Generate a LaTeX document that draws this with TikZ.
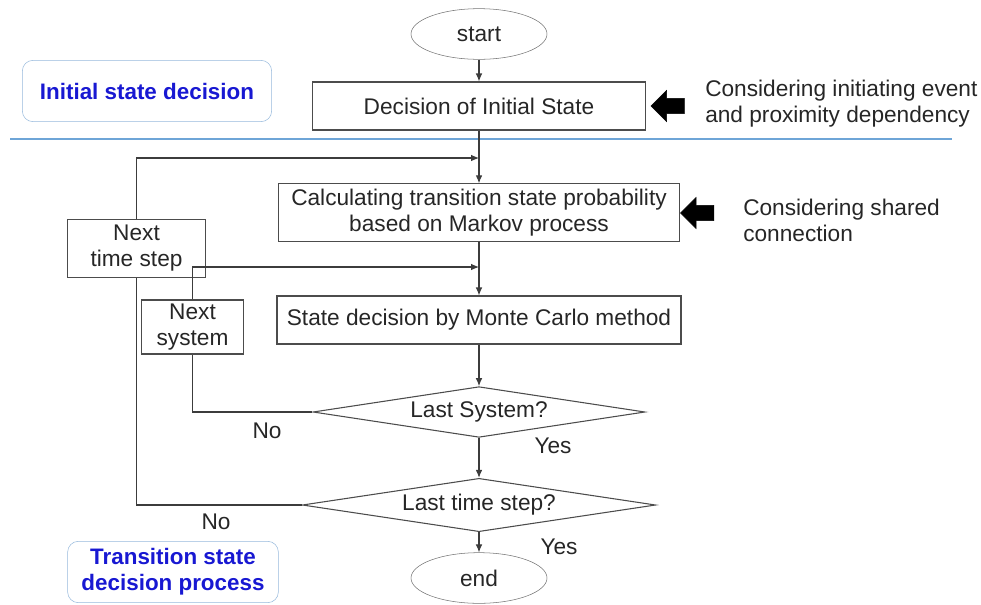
\documentclass[tikz,border=0pt]{standalone}
\usepackage{fontspec}
\setmainfont{Liberation Sans}
\usepackage{tikz}
\usetikzlibrary{arrows.meta, positioning, shapes.geometric, shapes.arrows}

\definecolor{labelblue}{RGB}{24,24,210}
\definecolor{frameblue}{RGB}{150,185,220}
\definecolor{sepblue}{RGB}{110,165,215}
\definecolor{linegray}{RGB}{60,60,60}

\begin{document}
\begin{tikzpicture}[
  x=0.75pt, y=-0.75pt,
  every node/.style = {font=\fontsize{17}{19.5}\selectfont, text=black!85},
  term/.style = {ellipse, draw=black!55, minimum width=102pt, minimum height=38pt, inner sep=0pt},
  box/.style = {rectangle, draw=black!70, thick, align=center, inner sep=0pt},
  choice/.style = {diamond, aspect=6.5, draw=black!70, thick, inner sep=0pt},
  stage/.style = {rectangle, rounded corners=8pt, draw=frameblue, align=center,
                  font=\fontsize{16.8}{19.5}\selectfont\bfseries, text=labelblue},
  bigarrow/.style = {single arrow, fill=black, draw=black, shape border rotate=180,
                     inner sep=5.5pt, single arrow head extend=6pt, minimum height=25pt},
  note/.style = {anchor=west, align=left, inner sep=0pt},
  arrow/.style = {draw=linegray, thick, -{Latex[length=6pt, width=5pt]}},
  link/.style = {draw=linegray, thick}
]
\useasboundingbox (0,0) rectangle (981,604);

% main flow
\node[term] (start) at (479, 34) {start};
\node[box, minimum width=250pt, minimum height=36pt] (init) at (479, 106) {Decision of Initial State};
\node[box, minimum width=301pt, minimum height=43pt] (calc) at (479, 212.5) {Calculating transition state probability\\based on Markov process};
\node[box, minimum width=303pt, minimum height=36pt] (state) at (479, 320) {State decision by Monte Carlo method};
\node[choice, minimum width=249pt, minimum height=38pt] (lastSys) at (479, 412) {Last System?};
\node[choice, minimum width=265pt, minimum height=40pt] (lastTime) at (479, 505) {Last time step?};
\node[term] (end) at (479, 578) {end};

% loop boxes
\node[box, minimum width=104pt, minimum height=43pt] (nextTime) at (136.5, 248.5) {Next\\time step};
\node[box, minimum width=77pt, minimum height=40.5pt] (nextSys) at (192.5, 327) {Next\\system};

% side notes
\node[bigarrow] (arrInit) at (671.5, 106) {};
\node[note] (noteInit) at (705, 104) {Considering initiating event\\and proximity dependency};
\node[bigarrow] (arrCalc) at (701, 213) {};
\node[note] (noteCalc) at (743, 220) {Considering shared\\connection};

% stage labels
\node[stage, minimum width=187pt, minimum height=46pt] (stageInit) at (147, 91) {Initial state decision};
\node[stage, minimum width=158pt, minimum height=46pt] (stageTrans) at (173, 572) {Transition state\\decision process};
\draw[sepblue, thick] (10, 139) -- (952, 139);

% branch labels
\node (noSys) at (267, 431) {No};
\node (yesSys) at (553, 446) {Yes};
\node (noTime) at (216, 522) {No};
\node (yesTime) at (559, 547) {Yes};

% join points on the main line
\coordinate (joinTime) at (479, 158);
\coordinate (joinSys) at (479, 267);

% Logic flow arrows
\draw[arrow] (start.south) -- (init.north);
\draw[arrow] (init.south) -- (calc.north);
\draw[arrow] (calc.south) -- (state.north);
\draw[arrow] (state.south) -- (lastSys.north);
\draw[arrow] (lastSys.south) -- (lastTime.north);
\draw[arrow] (lastTime.south) -- (end.north);

% loops back
\draw[link] (lastSys.west) -| (nextSys.south);
\draw[arrow] (nextSys.north) |- (joinSys);
\draw[link] (lastTime.west) -| (nextTime.south);
\draw[arrow] (nextTime.north) |- (joinTime);
\end{tikzpicture}
\end{document}
